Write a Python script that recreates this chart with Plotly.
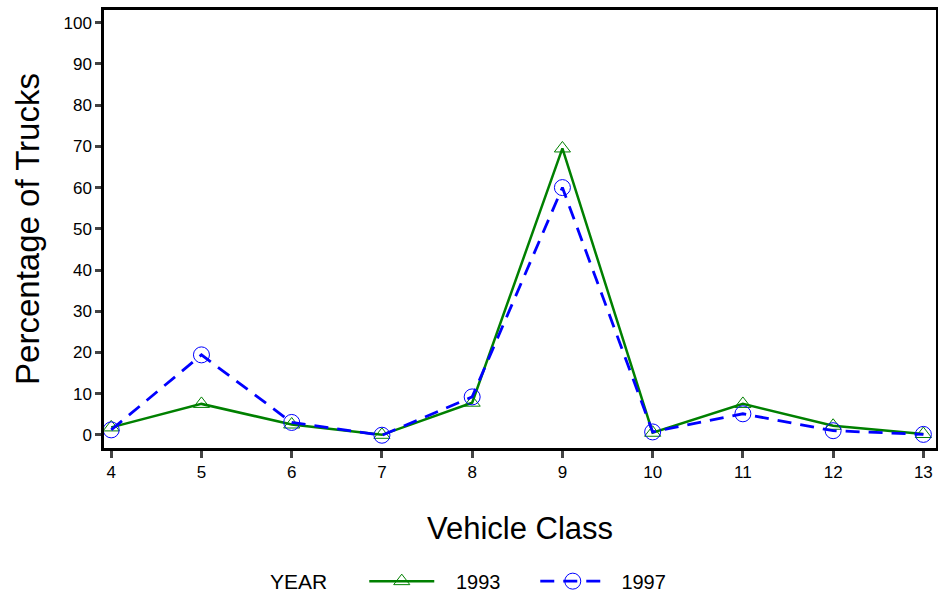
import plotly.graph_objects as go

vehicle_class = [4, 5, 6, 7, 8, 9, 10, 11, 12, 13]
pct_1993 = [1.8, 7.5, 2.5, 0.0, 7.8, 69.5, 0.5, 7.5, 2.2, 0.2]
pct_1997 = [1.2, 19.4, 3.0, -0.1, 9.2, 60.0, 0.7, 5.1, 1.0, 0.1]
y_ticks = list(range(0, 101, 10))

fig = go.Figure()
fig.add_trace(go.Scatter(
    x=vehicle_class, y=pct_1993, name="\u00a0\u00a0\u00a01993", mode="lines+markers",
    line=dict(color="#008000", width=2.5, dash="solid"),
    marker=dict(symbol="triangle-up-open", size=14, color="#008000", line=dict(width=1)),
))
fig.add_trace(go.Scatter(
    x=vehicle_class, y=pct_1997, name="\u00a0\u00a01997", mode="lines+markers",
    line=dict(color="#0000FF", width=2.8, dash="14px,9px"),
    marker=dict(symbol="circle-open", size=16, color="#0000FF", line=dict(width=1)),
))

fig.update_layout(
    width=938, height=598,
    margin=dict(l=104, r=2, t=10, b=150, autoexpand=False),
    paper_bgcolor="white", plot_bgcolor="white",
    font=dict(family="Arial, Liberation Sans, sans-serif", color="black", size=17),
    showlegend=True,
    legend=dict(
        orientation="h", x=0.197, xanchor="left", y=-0.304, yanchor="middle",
        title=dict(text="YEAR\u00a0\u00a0\u00a0\u00a0\u00a0", font=dict(size=21)),
        font=dict(size=20), itemwidth=65, entrywidth=91, entrywidthmode="pixels",
    ),
)
fig.update_xaxes(
    range=[3.92, 13.14], tickmode="array", tickvals=vehicle_class,
    ticks="outside", ticklen=7, tickwidth=2.5, showgrid=False, zeroline=False,
    showline=True, linecolor="black", linewidth=2.5, mirror=True, automargin=False,
    title=dict(text="Vehicle Class", font=dict(size=31), standoff=37),
    tickfont=dict(size=17),
)
fig.update_yaxes(
    range=[-3.2, 103.1], tickmode="array", tickvals=y_ticks,
    ticks="outside", ticklen=6, tickwidth=2.5, showgrid=False, zeroline=False,
    showline=True, linecolor="black", linewidth=2.5, mirror=True, automargin=False,
    title=dict(text="Percentage of Trucks", font=dict(size=33), standoff=14),
    tickfont=dict(size=17),
)

fig.write_html("out.html", config={"displayModeBar": False},
               post_script="document.body.style.margin='0';")
